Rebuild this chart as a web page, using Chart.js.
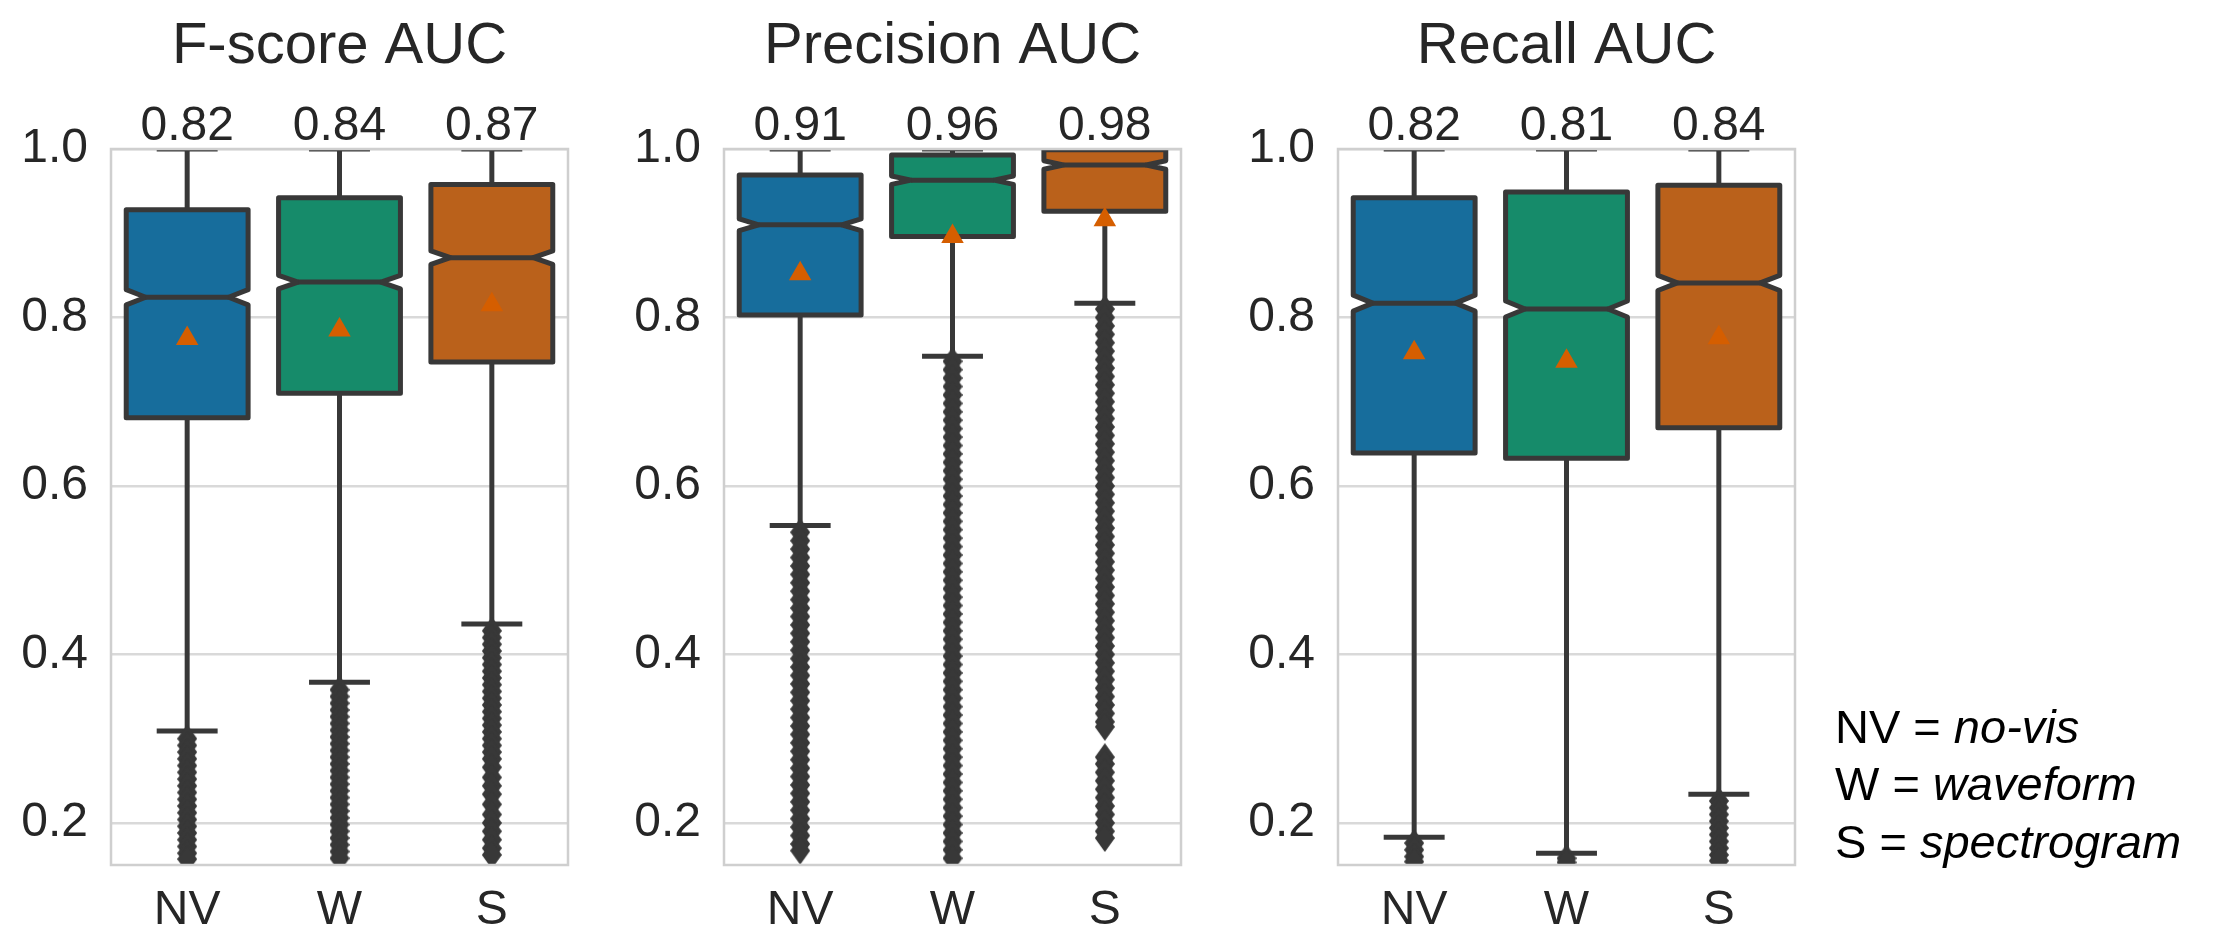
<!DOCTYPE html>
<html>
  <head>
    <title>AUC box plots</title>
    <meta charset="UTF-8" />
    <script src="https://cdn.jsdelivr.net/npm/chart.js"></script>
    <style>
      body { margin: 0; background: #fff; }
      #wrap { position: relative; width: 2222px; height: 929px; }
      canvas { position: absolute; top: 0; }
    </style>
  </head>

  <body>
    <div id="wrap">
      <canvas id="c0" width="613" height="929" style="left:0px"></canvas>
      <canvas id="c1" width="614" height="929" style="left:613px"></canvas>
      <canvas id="c2" width="995" height="929" style="left:1227px"></canvas>
    </div>

    <script>
      // categories and axis
      const categories = ["NV", "W", "S"];
      const yTicks = [0.2, 0.4, 0.6, 0.8, 1.0];
      const legendLines = [["NV = ", "no-vis"], ["W = ", "waveform"], ["S = ", "spectrogram"]];

      // F-score AUC
      const fscoreLabels = ["0.82", "0.84", "0.87"];
      const fscoreMedian = [0.824, 0.842, 0.871];
      const fscoreQ1 = [0.681, 0.710, 0.747];
      const fscoreQ3 = [0.928, 0.942, 0.958];
      const fscoreLow = [0.309, 0.367, 0.436];
      const fscoreHigh = [1.0, 1.0, 1.0];
      const fscoreNotch = [0.009, 0.008, 0.008];
      const fscoreMean = [0.775, 0.785, 0.815];
      const fscoreOutNV = [0.300, 0.292, 0.284, 0.276, 0.268, 0.260, 0.252, 0.244, 0.236, 0.228, 0.220, 0.212, 0.204, 0.196, 0.188, 0.180, 0.172, 0.164, 0.157];
      const fscoreOutW = [0.358, 0.350, 0.342, 0.334, 0.326, 0.318, 0.310, 0.302, 0.294, 0.286, 0.278, 0.270, 0.262, 0.254, 0.246, 0.238, 0.230, 0.222, 0.214, 0.206, 0.198, 0.190, 0.182, 0.174, 0.166, 0.158];
      const fscoreOutS = [0.428, 0.420, 0.412, 0.404, 0.396, 0.388, 0.380, 0.372, 0.364, 0.356, 0.348, 0.340, 0.332, 0.324, 0.316, 0.308, 0.300, 0.292, 0.284, 0.276, 0.266, 0.254, 0.244, 0.234, 0.222, 0.210, 0.200, 0.190, 0.180, 0.170, 0.162];

      // Precision AUC
      const precLabels = ["0.91", "0.96", "0.98"];
      const precMedian = [0.910, 0.963, 0.981];
      const precQ1 = [0.803, 0.896, 0.926];
      const precQ3 = [0.969, 0.993, 0.999];
      const precLow = [0.553, 0.754, 0.817];
      const precHigh = [1.0, 1.0, 1.0];
      const precNotch = [0.007, 0.005, 0.005];
      const precMean = [0.852, 0.896, 0.916];
      const precOutNV = [0.545, 0.535, 0.525, 0.515, 0.505, 0.495, 0.485, 0.475, 0.465, 0.455, 0.445, 0.435, 0.425, 0.415, 0.405, 0.395, 0.385, 0.375, 0.365, 0.355, 0.345, 0.335, 0.325, 0.315, 0.305, 0.295, 0.285, 0.275, 0.265, 0.255, 0.245, 0.235, 0.225, 0.215, 0.205, 0.195, 0.185, 0.175, 0.167];
      const precOutW = [0.748, 0.738, 0.728, 0.718, 0.708, 0.698, 0.688, 0.678, 0.668, 0.658, 0.648, 0.638, 0.628, 0.618, 0.608, 0.598, 0.588, 0.578, 0.568, 0.558, 0.548, 0.538, 0.528, 0.518, 0.508, 0.498, 0.488, 0.478, 0.468, 0.458, 0.448, 0.438, 0.428, 0.418, 0.408, 0.398, 0.388, 0.378, 0.368, 0.358, 0.348, 0.338, 0.328, 0.318, 0.308, 0.298, 0.288, 0.278, 0.268, 0.258, 0.248, 0.238, 0.228, 0.218, 0.208, 0.198, 0.188, 0.178, 0.168, 0.158];
      const precOutS = [0.810, 0.800, 0.790, 0.780, 0.770, 0.760, 0.750, 0.740, 0.730, 0.720, 0.710, 0.700, 0.690, 0.680, 0.670, 0.660, 0.650, 0.640, 0.630, 0.620, 0.610, 0.600, 0.590, 0.580, 0.570, 0.560, 0.550, 0.540, 0.530, 0.520, 0.510, 0.500, 0.490, 0.480, 0.470, 0.460, 0.450, 0.440, 0.430, 0.420, 0.410, 0.400, 0.390, 0.380, 0.370, 0.360, 0.350, 0.340, 0.330, 0.320, 0.314, 0.278, 0.270, 0.260, 0.250, 0.240, 0.230, 0.220, 0.210, 0.200, 0.190, 0.182];

      // Recall AUC
      const recLabels = ["0.82", "0.81", "0.84"];
      const recMedian = [0.817, 0.810, 0.841];
      const recQ1 = [0.639, 0.633, 0.669];
      const recQ3 = [0.942, 0.949, 0.957];
      const recLow = [0.183, 0.164, 0.234];
      const recHigh = [1.0, 1.0, 1.0];
      const recNotch = [0.0095, 0.0095, 0.009];
      const recMean = [0.758, 0.748, 0.776];
      const recOutNV = [0.176, 0.168, 0.160, 0.154];
      const recOutW = [0.158, 0.153];
      const recOutS = [0.226, 0.218, 0.210, 0.202, 0.194, 0.186, 0.178, 0.170, 0.162, 0.155];

      const boxColors = ["#176d9c", "#168b6a", "#ba611b"];
      const edge = "#383838";
      const meanColor = "#d55e00";
      const textColor = "#262626";
      const font = "Liberation Sans, Arial, Helvetica, sans-serif";

      const panels = [
        { title: "F-score AUC", labels: fscoreLabels, median: fscoreMedian, q1: fscoreQ1, q3: fscoreQ3, low: fscoreLow, high: fscoreHigh, notch: fscoreNotch, mean: fscoreMean, outliers: [fscoreOutNV, fscoreOutW, fscoreOutS] },
        { title: "Precision AUC", labels: precLabels, median: precMedian, q1: precQ1, q3: precQ3, low: precLow, high: precHigh, notch: precNotch, mean: precMean, outliers: [precOutNV, precOutW, precOutS] },
        { title: "Recall AUC", labels: recLabels, median: recMedian, q1: recQ1, q3: recQ3, low: recLow, high: recHigh, notch: recNotch, mean: recMean, outliers: [recOutNV, recOutW, recOutS] }
      ];

      // thin diamond marker for the fliers
      const diamond = document.createElement("canvas");
      diamond.width = 20;
      diamond.height = 28;
      (function () {
        const d = diamond.getContext("2d");
        d.fillStyle = edge;
        d.beginPath();
        d.moveTo(10, 0); d.lineTo(20, 14); d.lineTo(10, 28); d.lineTo(0, 14);
        d.closePath();
        d.fill();
      })();

      function seg(ctx, x1, y1, x2, y2) {
        ctx.beginPath();
        ctx.moveTo(x1, y1);
        ctx.lineTo(x2, y2);
        ctx.stroke();
      }

      const boxPlugin = {
        id: "boxes",
        beforeDatasetsDraw(chart, args, opts) {
          const p = opts.panel;
          const { ctx, chartArea: a } = chart;
          const x = chart.scales.x, y = chart.scales.y;
          const py = (v) => y.getPixelForValue(v);
          const band = x.getPixelForValue(1) - x.getPixelForValue(0);
          const hw = band * 0.4, capHalf = band * 0.2, notchIn = band * 0.8 * 0.16;

          ctx.save();
          ctx.beginPath();
          ctx.rect(a.left, a.top, a.width, a.height);
          ctx.clip();
          ctx.strokeStyle = edge;
          ctx.lineWidth = 5;
          ctx.lineCap = "butt";
          ctx.lineJoin = "round";

          p.median.forEach((med, i) => {
            const cx = x.getPixelForValue(i);
            // whiskers + caps
            seg(ctx, cx, py(p.q3[i]), cx, py(p.high[i]));
            seg(ctx, cx, py(p.q1[i]), cx, py(p.low[i]));
            seg(ctx, cx - capHalf, py(p.high[i]), cx + capHalf, py(p.high[i]));
            seg(ctx, cx - capHalf, py(p.low[i]), cx + capHalf, py(p.low[i]));

            // notched box
            const L = cx - hw, R = cx + hw;
            const yq1 = py(p.q1[i]), yq3 = py(p.q3[i]), ym = py(med);
            const ynLo = py(med - p.notch[i]), ynHi = py(med + p.notch[i]);
            ctx.beginPath();
            ctx.moveTo(L, yq1);
            ctx.lineTo(L, ynLo);
            ctx.lineTo(L + notchIn, ym);
            ctx.lineTo(L, ynHi);
            ctx.lineTo(L, yq3);
            ctx.lineTo(R, yq3);
            ctx.lineTo(R, ynHi);
            ctx.lineTo(R - notchIn, ym);
            ctx.lineTo(R, ynLo);
            ctx.lineTo(R, yq1);
            ctx.closePath();
            ctx.fillStyle = boxColors[i];
            ctx.fill();
            ctx.stroke();
            seg(ctx, L + notchIn, ym, R - notchIn, ym);
          });
          ctx.restore();
        },
        afterDatasetsDraw(chart, args, opts) {
          const p = opts.panel;
          const { ctx, chartArea: a } = chart;
          const x = chart.scales.x;
          ctx.save();
          // frame
          ctx.strokeStyle = "#cfcfcf";
          ctx.lineWidth = 2.5;
          ctx.strokeRect(a.left, a.top, a.width, a.height);

          // title
          ctx.fillStyle = textColor;
          ctx.textAlign = "center";
          ctx.textBaseline = "alphabetic";
          ctx.font = "58px " + font;
          ctx.fillText(p.title, (a.left + a.right) / 2, 63);

          // median labels
          ctx.font = "48px " + font;
          p.labels.forEach((t, i) => ctx.fillText(t, x.getPixelForValue(i), 140));

          // legend (only on last panel)
          if (opts.legend) {
            ctx.textAlign = "left";
            ctx.fillStyle = "#000";
            const lx = 1835 - 1227;
            const baselines = [743, 800, 858];
            legendLines.forEach((ln, i) => {
              ctx.font = "47px " + font;
              ctx.fillText(ln[0], lx, baselines[i]);
              const w = ctx.measureText(ln[0]).width;
              ctx.font = "italic 47px " + font;
              ctx.fillText(ln[1], lx + w, baselines[i]);
            });
          }
          ctx.restore();
        }
      };

      function makeChart(id, p, rightPad, legend) {
        const outlierPoints = [];
        p.outliers.forEach((list, i) => {
          list.forEach((v) => outlierPoints.push({ x: categories[i], y: v }));
        });
        const meanPoints = p.mean.map((v, i) => ({ x: categories[i], y: v }));

        return new Chart(document.getElementById(id).getContext("2d"), {
          type: "scatter",
          data: {
            labels: categories,
            datasets: [
              {
                label: "outliers",
                data: outlierPoints,
                pointStyle: diamond,
                pointRadius: 10,
                borderWidth: 0
              },
              {
                label: "mean",
                data: meanPoints,
                pointStyle: "triangle",
                pointRadius: 13,
                backgroundColor: meanColor,
                borderColor: meanColor,
                borderWidth: 0
              }
            ]
          },
          plugins: [boxPlugin],
          options: {
            responsive: false,
            animation: false,
            devicePixelRatio: 1,
            layout: { padding: { top: 149, right: rightPad, bottom: 0, left: 0 } },
            plugins: {
              legend: { display: false },
              tooltip: { enabled: false },
              boxes: { panel: p, legend: legend }
            },
            scales: {
              x: {
                type: "category",
                labels: categories,
                offset: true,
                grid: { display: false },
                border: { display: false },
                ticks: { color: textColor, font: { family: font, size: 48 }, padding: 9 },
                afterFit: (s) => { s.height = 64; }
              },
              y: {
                type: "linear",
                min: 0.15,
                max: 1.0,
                afterBuildTicks: (s) => { s.ticks = yTicks.map((v) => ({ value: v })); },
                grid: { color: "#d9d9d9", lineWidth: 2.5, drawTicks: false },
                border: { display: false },
                ticks: {
                  color: textColor,
                  font: { family: font, size: 48 },
                  padding: 23,
                  callback: (v) => Number(v).toFixed(1)
                },
                afterFit: (s) => { s.width = 111; }
              }
            }
          }
        });
      }

      makeChart("c0", panels[0], 45, false);
      makeChart("c1", panels[1], 46, false);
      makeChart("c2", panels[2], 427, true);
    </script>
  </body>
</html>
